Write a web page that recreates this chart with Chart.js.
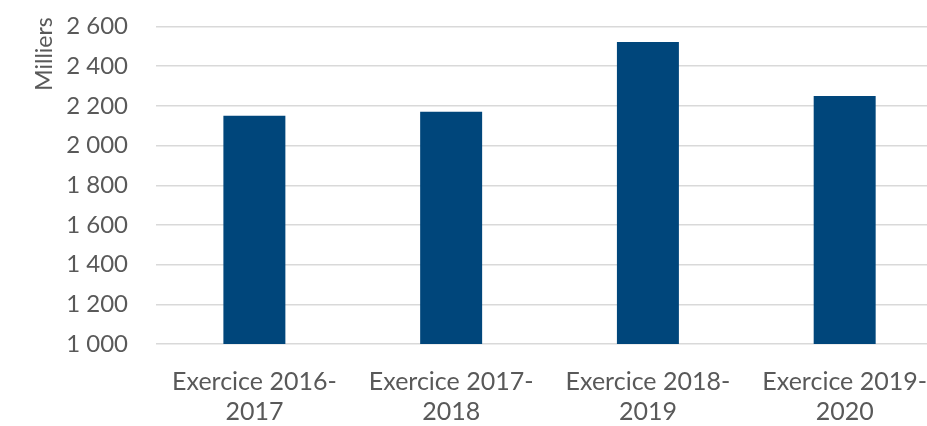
<!DOCTYPE html>
<html>
<head>
<meta charset="utf-8">
<script src="https://cdn.jsdelivr.net/npm/chart.js@4/dist/chart.umd.min.js"></script>
<style>
  html, body { margin: 0; padding: 0; overflow: hidden; background: #fff; }
  #wrap { width: 950px; height: 426px; }
</style>
</head>
<body>
<div id="wrap"><canvas id="myChart" width="950" height="426"></canvas></div>
<script>
    // data (milliers)
    const categories = [
        ['Exercice 2016-', '2017'],
        ['Exercice 2017-', '2018'],
        ['Exercice 2018-', '2019'],
        ['Exercice 2019-', '2020']
    ];
    const values = [2150, 2170, 2522, 2250];
    const yMin = 1000;
    const yMax = 2600;
    const yStep = 200;

    const textColor = '#595959';
    const fontFamily = 'Lato, "Open Sans", sans-serif';

    // y title "Milliers" sits near the top, like Excel does it
    const yTitle = {
        id: 'yTitle',
        afterDraw(chart) {
            const c = chart.ctx;
            c.save();
            c.translate(45, 54);
            c.rotate(-Math.PI / 2);
            c.font = '23px ' + fontFamily;
            c.fillStyle = textColor;
            c.textAlign = 'center';
            c.textBaseline = 'middle';
            c.fillText('Milliers', 0, 0);
            c.restore();
        }
    };

    const ctx = document.getElementById('myChart').getContext('2d');
    const myChart = new Chart(ctx, {
        type: 'bar',
        data: {
            labels: categories,
            datasets: [{
                data: values,
                backgroundColor: '#00467B',
                barPercentage: 0.315,
                categoryPercentage: 1
            }]
        },
        options: {
            responsive: false,
            animation: false,
            layout: { padding: { top: 26.5, left: 0, right: 0, bottom: 0 } },
            plugins: {
                legend: { display: false },
                tooltip: { enabled: false }
            },
            scales: {
                x: {
                    grid: { display: false, drawTicks: false },
                    border: { display: false },
                    ticks: {
                        color: textColor,
                        font: { family: fontFamily, size: 25, lineHeight: 1.2 },
                        padding: 23,
                        maxRotation: 0,
                        autoSkip: false
                    },
                    afterFit(scale) { scale.height = 82; }
                },
                y: {
                    min: yMin,
                    max: yMax,
                    grid: { color: '#d9d9d9', lineWidth: 1.5, drawTicks: false },
                    border: { display: false },
                    ticks: {
                        stepSize: yStep,
                        color: textColor,
                        font: { family: fontFamily, size: 24 },
                        padding: 28,
                        callback: v => String(v).replace(/\B(?=(\d{3})+(?!\d))/g, ' ')
                    },
                    afterFit(scale) {
                        scale.width = 156;
                        scale.paddingTop = 0;
                        scale.paddingBottom = 0;
                    }
                }
            }
        },
        plugins: [yTitle]
    });
</script>
</body>
</html>
